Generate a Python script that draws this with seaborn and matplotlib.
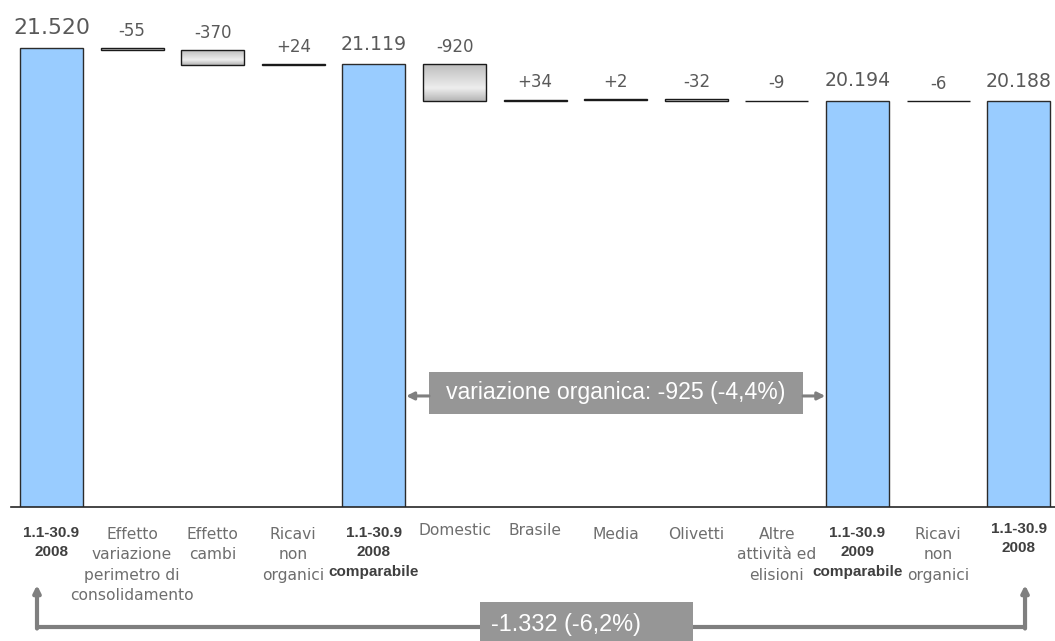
import numpy as np
import pandas as pd
import matplotlib
matplotlib.use("Agg")
import matplotlib.pyplot as plt
import matplotlib.transforms as mtransforms
from matplotlib.colors import LinearSegmentedColormap
from matplotlib.patches import Rectangle
import seaborn as sns

# ---- data -------------------------------------------------------------
labels = [
    "1.1-30.9\n2008",
    "Effetto\nvariazione\nperimetro di\nconsolidamento",
    "Effetto\ncambi",
    "Ricavi\nnon\norganici",
    "1.1-30.9\n2008\ncomparabile",
    "Domestic",
    "Brasile",
    "Media",
    "Olivetti",
    "Altre\nattività ed\nelisioni",
    "1.1-30.9\n2009\ncomparabile",
    "Ricavi\nnon\norganici",
    "1.1-30.9\n2008",
]
# "total" steps are full bars, "delta" steps float between running totals
kinds = ["total", "delta", "delta", "delta", "total", "delta", "delta",
         "delta", "delta", "delta", "total", "delta", "total"]
values = [21520, -55, -370, 24, 21119, -920, 34, 2, -32, -9, 20194, -6, 20188]

organic_text = "variazione organica: -925 (-4,4%)"
total_text = "-1.332 (-6,2%)"

# ---- waterfall geometry ----------------------------------------------
steps = [str(i) for i in range(len(values))]
bottoms, tops = [], []
running = 0
for k, v in zip(kinds, values):
    if k == "total":
        running = v
        bottoms.append(0)
        tops.append(v)
    else:
        start = running
        running += v
        bottoms.append(min(start, running))
        tops.append(max(start, running))

df = pd.DataFrame({"step": steps, "kind": kinds, "value": values,
                   "bottom": bottoms, "top": tops})
totals = df[df.kind == "total"]
deltas = df[df.kind == "delta"]

# ---- figure -------------------------------------------------------------
sns.set_theme(style="white")
plt.rcParams["font.family"] = ["DejaVu Sans"]
ARIAL = ["Liberation Sans", "DejaVu Sans"]

W, H = 1055, 641
fig = plt.figure(figsize=(W / 100, H / 100), dpi=100)
ax = fig.add_axes([11.2 / W, (H - 507) / H, (W - 11.2) / W, 507 / H])

BAR_W = 0.78
sns.barplot(data=totals, x="step", y="value", order=steps, color="#99CCFF",
            saturation=1, width=BAR_W, edgecolor="#2b2b2b", linewidth=1.0,
            ax=ax, zorder=2)

# floating delta bars with a vertical grey gradient
xpos = deltas.step.astype(int).to_numpy()
heights = (deltas.top - deltas.bottom).to_numpy()
patches = ax.bar(xpos, heights, bottom=deltas.bottom.to_numpy(), width=BAR_W,
                 facecolor="none", edgecolor="#1a1a1a", linewidth=1.0, zorder=3)
grad_cmap = LinearSegmentedColormap.from_list(
    "steel", [(0.0, "#bdbdbd"), (0.65, "#eeeeee"), (1.0, "#b5b5b5")])
grad = np.linspace(0, 1, 128).reshape(-1, 1)
for p in patches:
    x0, y0 = p.get_x(), p.get_y()
    im = ax.imshow(grad, cmap=grad_cmap, aspect="auto", origin="upper",
                   extent=[x0, x0 + p.get_width(), y0, y0 + p.get_height()],
                   zorder=2.5, interpolation="bilinear")
    im.set_clip_path(p)

ax.set_xlim(-0.5, 12.45)
ax.set_ylim(10000, 22732)
ax.set_xticks([])
ax.set_yticks([])
ax.set_xlabel("")
ax.set_ylabel("")
for s in ["left", "right", "top"]:
    ax.spines[s].set_visible(False)
ax.spines["bottom"].set_color("#262626")
ax.spines["bottom"].set_linewidth(1.2)

# ---- value labels ---------------------------------------------------------
for _, r in df.iterrows():
    x = int(r.step)
    if r.kind == "total":
        txt = f"{r.value:,}".replace(",", ".")
        size = 15.8 if x == 0 else 13.6
        ax.annotate(txt, xy=(x, r.top), xytext=(0, 10.5), textcoords="offset points",
                    ha="center", va="baseline", fontsize=size, color="#595959")
    else:
        txt = f"{r.value:+d}"
        ax.annotate(txt, xy=(x, r.top), xytext=(0, 9), textcoords="offset points",
                    ha="center", va="baseline", fontsize=12, color="#595959")

# ---- category labels ------------------------------------------------------
trans = mtransforms.blended_transform_factory(ax.transData, ax.transAxes)
raised = {5, 6, 12}
for i, (lab, k) in enumerate(zip(labels, kinds)):
    if k == "total":
        y = -0.030 if i in raised else -0.037
        ax.text(i, y, lab, transform=trans, ha="center", va="top",
                fontsize=11, fontweight="bold", family=ARIAL,
                color="#3f3f3f", linespacing=1.45 if i in raised else 1.52)
    else:
        y = -0.031 if i in raised else -0.039
        ax.text(i, y, lab, transform=trans, ha="center", va="top",
                fontsize=11.2, color="#6e6e6e", linespacing=1.46)

# ---- organic variation callout -------------------------------------------
box_c = "#969696"
arrow_c = "#7f7f7f"
ax.add_patch(Rectangle((4.684, 0.1834), 9.324 - 4.684, 0.2663 - 0.1834,
                       transform=trans, facecolor=box_c, edgecolor="none",
                       zorder=4))
ax.text(7.004, 0.2249, organic_text, transform=trans, ha="center", va="center",
        color="white", fontsize=16.6, family=ARIAL, zorder=5)
for tip, tail in [(4.40, 4.684), (9.60, 9.324)]:
    ax.annotate("", xy=(tip, 0.219), xycoords=trans, xytext=(tail, 0.219),
                textcoords=trans,
                arrowprops=dict(arrowstyle="-|>", color=arrow_c, lw=2.2,
                                mutation_scale=11, shrinkA=0, shrinkB=0),
                zorder=4)

# ---- overall variation bracket -------------------------------------------
y_line = (507 - 627) / 507
y_tip = (507 - 585) / 507
xl, xr = (37 - 51.5) / 80.6, (1025 - 51.5) / 80.6
ax.plot([xl, xr], [y_line, y_line], transform=trans, color=arrow_c, lw=3,
        clip_on=False, solid_capstyle="butt", zorder=3)
for xv in (xl, xr):
    ax.annotate("", xy=(xv, y_tip), xycoords=trans, xytext=(xv, y_line - 0.003),
                textcoords=trans, annotation_clip=False,
                arrowprops=dict(arrowstyle="-|>", color=arrow_c, lw=3,
                                mutation_scale=10, shrinkA=0, shrinkB=0))
ax.add_patch(Rectangle((5.316, -0.30), 7.959 - 5.316, 0.30 - 0.1874,
                       transform=trans, facecolor=box_c, edgecolor="none",
                       clip_on=False, zorder=5))
ax.text(5.453, -0.2308, total_text, transform=trans, ha="left", va="center",
        color="white", fontsize=16.9, family=ARIAL, zorder=6)

fig.savefig("out.png", dpi=100)
